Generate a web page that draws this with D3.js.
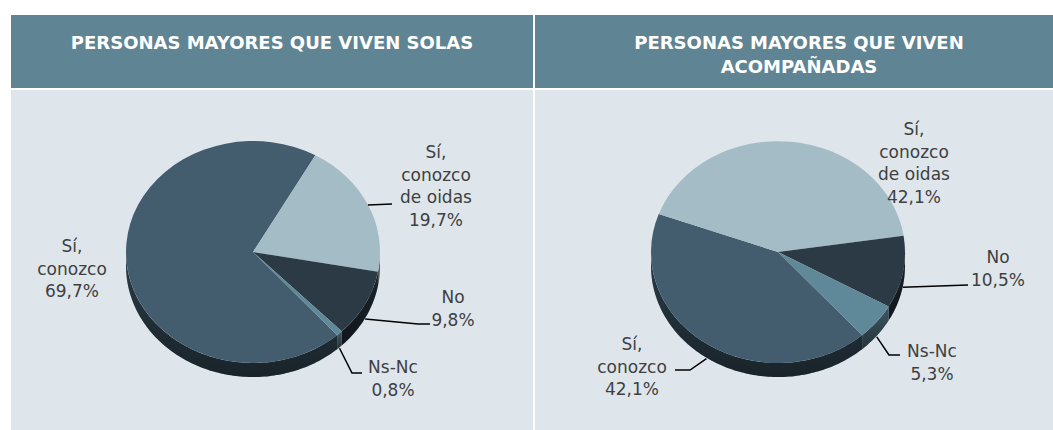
<!DOCTYPE html>
<html lang="es">
<head>
<meta charset="UTF-8">
<title>Personas mayores</title>
<script src="https://cdn.jsdelivr.net/npm/d3@7"></script>
<style>
  body { margin: 0; background: #fff; }
  text { font-family: "DejaVu Sans", sans-serif; }
</style>
</head>
<body>
<svg width="1053" height="430"></svg>
<script>
// datos
var categorias = ["Sí, conozco", "Sí, conozco de oidas", "No", "Ns-Nc"];
var solas = [69.7, 19.7, 9.8, 0.8];
var acompanadas = [42.1, 42.1, 10.5, 5.3];
var titulos = [["PERSONAS MAYORES QUE VIVEN SOLAS"], ["PERSONAS MAYORES QUE VIVEN", "ACOMPAÑADAS"]];
var lineasEtiqueta = [["Sí,", "conozco"], ["Sí,", "conozco", "de oidas"], ["No"], ["Ns-Nc"]];

var colores = ["#435d6f", "#a4bcc6", "#2b3a45", "#5f8898"];

var svg = d3.select("svg");
var W = 1053, H = 430;
var fmt = function(v){ return d3.format(".1f")(v).replace(".", ",") + "%"; };

// paneles
var paneles = [
  {x: 11, w: 522, cx: 253, cy: 252, valores: solas, titulo: titulos[0],
   etiquetas: [
     {x: 72, y: 252},
     {x: 436, y: 158, puntos: [[392, 204]]},
     {x: 453, y: 303, puntos: [[418, 324], [430, 324]]},
     {x: 393, y: 373, puntos: [[352, 373], [362, 373]]}
   ]},
  {x: 535, w: 518, cx: 778, cy: 252, valores: acompanadas, titulo: titulos[1],
   etiquetas: [
     {x: 632, y: 350, puntos: [[690, 370], [675, 370]]},
     {x: 914, y: 135},
     {x: 998, y: 263, puntos: [[968, 285]]},
     {x: 932, y: 357, puntos: [[889, 355], [900, 355]]}
   ]}
];

var rx = 127, ry = 111, prof = 14;
var inicio = 138.5 * Math.PI / 180;

var defs = svg.append("defs");
var grad = defs.append("linearGradient").attr("id", "sombra")
  .attr("x1", 0).attr("y1", 0).attr("x2", 0).attr("y2", 1);
grad.append("stop").attr("offset", "0%").attr("stop-color", "#000").attr("stop-opacity", 0.05);
grad.append("stop").attr("offset", "100%").attr("stop-color", "#000").attr("stop-opacity", 0.45);

var pie = d3.pie().sort(null).startAngle(inicio).endAngle(inicio + 2 * Math.PI);
var arc = d3.arc().innerRadius(0).outerRadius(1);

paneles.forEach(function(p){
  var g = svg.append("g");
  // cabecera y fondo
  g.append("rect").attr("x", p.x).attr("y", 15).attr("width", p.w).attr("height", 73).attr("fill", "#5f8494");
  g.append("rect").attr("x", p.x).attr("y", 90).attr("width", p.w).attr("height", H - 90).attr("fill", "#dee6ec");
  var tx = p.x + p.w / 2 + (p.x > 500 ? 5 : 0);
  g.append("text")
    .attr("x", tx).attr("y", 49)
    .attr("text-anchor", "middle").attr("fill", "#fff")
    .attr("font-size", 18).attr("font-weight", "bold")
    .selectAll("tspan").data(p.titulo).enter().append("tspan")
    .attr("x", tx)
    .attr("dy", function(d, i){ return i ? 24 : 0; })
    .text(function(d){ return d; });

  var arcos = pie(p.valores);
  var pt = function(a, dy){ return [p.cx + rx * Math.sin(a), p.cy - ry * Math.cos(a) + (dy || 0)]; };

  // lados (mitad frontal)
  var lados = g.append("g");
  arcos.forEach(function(d, i){
    [-2 * Math.PI, 0, 2 * Math.PI].forEach(function(k){
      var a0 = Math.max(d.startAngle, Math.PI / 2 + k);
      var a1 = Math.min(d.endAngle, 3 * Math.PI / 2 + k);
      if (a1 <= a0) return;
      var n = Math.max(2, Math.ceil((a1 - a0) / 0.02));
      var angs = d3.range(n + 1).map(function(j){ return a0 + (a1 - a0) * j / n; });
      var pts = angs.map(function(a){ return pt(a); })
        .concat(angs.slice().reverse().map(function(a){ return pt(a, prof); }));
      var path = d3.line()(pts) + "Z";
      lados.append("path").attr("d", path).attr("fill", d3.color(colores[i]).darker(1.1));
      lados.append("path").attr("d", path).attr("fill", "url(#sombra)");
    });
  });

  // caras superiores
  g.append("g")
    .attr("transform", "translate(" + p.cx + "," + p.cy + ") scale(" + rx + "," + ry + ")")
    .selectAll("path").data(arcos).enter().append("path")
    .attr("d", arc)
    .attr("fill", function(d, i){ return colores[i]; });

  // etiquetas
  arcos.forEach(function(d, i){
    var e = p.etiquetas[i];
    var lineas = lineasEtiqueta[i].concat([fmt(d.value)]);
    if (e.puntos) {
      var m = (d.startAngle + d.endAngle) / 2;
      var frente = Math.cos(m) < 0;
      var ancla = pt(m, frente ? prof + 1 : 0);
      g.append("path")
        .attr("d", d3.line()([ancla].concat(e.puntos)))
        .attr("fill", "none").attr("stroke", "#000").attr("stroke-width", 1.5);
    }
    g.append("text")
      .attr("text-anchor", "middle").attr("fill", "#404040").attr("font-size", 17)
      .selectAll("tspan").data(lineas).enter().append("tspan")
      .attr("x", e.x).attr("y", function(t, j){ return e.y + j * 22.5; })
      .text(function(t){ return t; });
  });
});
</script>
</body>
</html>
